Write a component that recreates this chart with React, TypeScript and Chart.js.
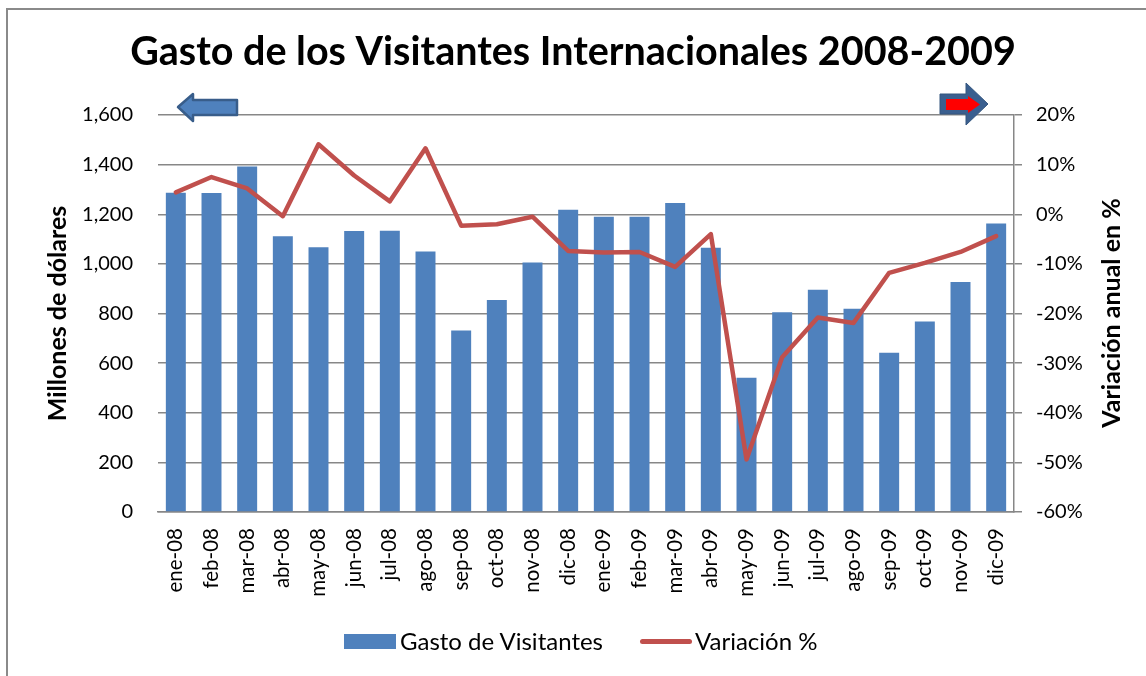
import React, { useEffect, useRef } from "react";
import { Chart, registerables } from "chart.js";

Chart.register(...registerables);

const categories = [
  "ene-08", "feb-08", "mar-08", "abr-08", "may-08", "jun-08", "jul-08", "ago-08",
  "sep-08", "oct-08", "nov-08", "dic-08", "ene-09", "feb-09", "mar-09", "abr-09",
  "may-09", "jun-09", "jul-09", "ago-09", "sep-09", "oct-09", "nov-09", "dic-09",
];

const gastoVisitantes = [
  1287, 1286, 1392, 1111, 1067, 1132, 1134, 1050,
  731, 854, 1006, 1218, 1190, 1190, 1245, 1065,
  541, 805, 896, 819, 642, 768, 927, 1163,
];

const variacionPct = [
  4.4, 7.5, 5.2, -0.4, 14.1, 7.8, 2.6, 13.3,
  -2.3, -2.0, -0.5, -7.4, -7.7, -7.6, -10.6, -4.0,
  -49.4, -28.8, -20.8, -21.9, -11.8, -9.8, -7.6, -4.4,
];

const leftAxisTicks = [0, 200, 400, 600, 800, 1000, 1200, 1400, 1600];
const rightAxisTicks = [-60, -50, -40, -30, -20, -10, 0, 10, 20];

const TITLE = "Gasto de los Visitantes Internacionales 2008-2009";
const LEFT_TITLE = "Millones de dólares";
const RIGHT_TITLE = "Variación anual en %";
const SERIES_BAR = "Gasto de Visitantes";
const SERIES_LINE = "Variación %";

const FONT = "Lato, 'Open Sans', sans-serif";
const BLUE = "#4F81BD";
const RED = "#C0504D";
const GRID = "#878787";

export default function App() {
  const canvasRef = useRef<HTMLCanvasElement | null>(null);

  useEffect(() => {
    const canvas = canvasRef.current;
    if (!canvas) return;
    Chart.defaults.font.family = FONT;
    Chart.defaults.color = "#000";
    const chart = new Chart(canvas, {
      type: "bar",
      data: {
        labels: categories,
        datasets: [
          {
            type: "line",
            label: SERIES_LINE,
            data: variacionPct,
            yAxisID: "y1",
            borderColor: RED,
            backgroundColor: RED,
            borderWidth: 4.5,
            pointRadius: 0,
            tension: 0,
            borderCapStyle: "round",
            borderJoinStyle: "round",
            order: 0,
          } as any,
          {
            type: "bar",
            label: SERIES_BAR,
            data: gastoVisitantes,
            yAxisID: "y",
            backgroundColor: BLUE,
            borderWidth: 0,
            categoryPercentage: 1,
            barPercentage: 0.56,
            order: 1,
          } as any,
        ],
      },
      options: {
        animation: false,
        responsive: false,
        maintainAspectRatio: false,
        layout: { padding: 0 },
        plugins: {
          legend: { display: false },
          tooltip: { enabled: false },
          title: {
            display: true,
            text: TITLE,
            color: "#000",
            font: { family: FONT, size: 39.5, weight: "bold" },
            padding: { top: 29, bottom: 38.6 },
          },
        },
        scales: {
          x: {
            grid: { display: false, drawTicks: false },
            border: { display: true, color: GRID, width: 1.5 },
            ticks: {
              autoSkip: false,
              minRotation: 90,
              maxRotation: 90,
              padding: 16,
              color: "#000",
              font: { family: FONT, size: 20.5 },
            },
            afterFit: (s: any) => {
              s.height = 164;
            },
          },
          y: {
            position: "left",
            min: leftAxisTicks[0],
            max: leftAxisTicks[leftAxisTicks.length - 1],
            afterBuildTicks: (s: any) => {
              s.ticks = leftAxisTicks.map((v) => ({ value: v }));
            },
            ticks: {
              padding: 25,
              color: "#000",
              font: { family: FONT, size: 20 },
              callback: (v: any) => Number(v).toLocaleString("en-US"),
            },
            grid: { color: GRID, lineWidth: 1.5, drawTicks: false },
            border: { display: false },
            title: {
              display: true,
              text: LEFT_TITLE,
              color: "#000",
              font: { family: FONT, size: 25, weight: "bold" },
              padding: { top: 43, bottom: 0 },
            },
            afterFit: (s: any) => {
              s.width = 158;
            },
          },
          y1: {
            position: "right",
            min: rightAxisTicks[0],
            max: rightAxisTicks[rightAxisTicks.length - 1],
            afterBuildTicks: (s: any) => {
              s.ticks = rightAxisTicks.map((v) => ({ value: v }));
            },
            ticks: {
              padding: 14,
              color: "#000",
              font: { family: FONT, size: 20 },
              callback: (v: any) => `${v}%`,
            },
            grid: {
              drawOnChartArea: false,
              drawTicks: true,
              tickLength: 8,
              color: GRID,
              lineWidth: 1.5,
            },
            border: { display: true, color: GRID, width: 1.5 },
            title: { display: false },
            afterFit: (s: any) => {
              s.width = 132;
            },
          },
        },
      } as any,
    });
    return () => chart.destroy();
  }, []);

  return (
    <div
      style={{
        position: "fixed",
        left: 0,
        top: 0,
        width: 1146,
        height: 676,
        overflow: "hidden",
        background: "#fff",
        fontFamily: FONT,
      }}
    >
      <div
        style={{
          position: "absolute",
          left: 6,
          top: 8,
          width: 1300,
          height: 900,
          border: "2px solid #8a8a8a",
        }}
      />
      <canvas
        ref={canvasRef}
        width={1146}
        height={676}
        style={{ position: "absolute", left: 0, top: 0, width: 1146, height: 676 }}
      />
      <div
        style={{
          position: "absolute",
          left: 1110,
          top: 313,
          transform: "translate(-50%, -50%) rotate(-90deg)",
          fontSize: 25,
          fontWeight: "bold",
          lineHeight: "30px",
          color: "#000",
          whiteSpace: "nowrap",
        }}
      >
        {RIGHT_TITLE}
      </div>
      <svg
        width={1146}
        height={676}
        style={{ position: "absolute", left: 0, top: 0, pointerEvents: "none" }}
      >
        <polygon
          points="178,107 193,94 193,100 237,100 237,115 193,115 193,121"
          fill={BLUE}
          stroke="#385D8A"
          strokeWidth={2.5}
          strokeLinejoin="round"
        />
        <polygon
          points="940,94 966,94 966,83 988,104 966,125 966,114 940,114"
          fill="#3A5F8F"
          stroke="#34567F"
          strokeWidth={1}
        />
        <polygon
          points="946,99 968,99 968,96 980,104.5 968,113 968,110 946,110"
          fill="#FF0000"
        />
      </svg>
      <div
        style={{
          position: "absolute",
          left: 344,
          top: 634,
          width: 52,
          height: 15,
          background: BLUE,
        }}
      />
      <div
        style={{
          position: "absolute",
          left: 400,
          top: 627,
          fontSize: 24,
          lineHeight: "28px",
          color: "#000",
          whiteSpace: "nowrap",
        }}
      >
        {SERIES_BAR}
      </div>
      <div
        style={{
          position: "absolute",
          left: 640,
          top: 639,
          width: 52,
          height: 5,
          borderRadius: 3,
          background: RED,
        }}
      />
      <div
        style={{
          position: "absolute",
          left: 695,
          top: 627,
          fontSize: 24,
          lineHeight: "28px",
          color: "#000",
          whiteSpace: "nowrap",
        }}
      >
        {SERIES_LINE}
      </div>
    </div>
  );
}
